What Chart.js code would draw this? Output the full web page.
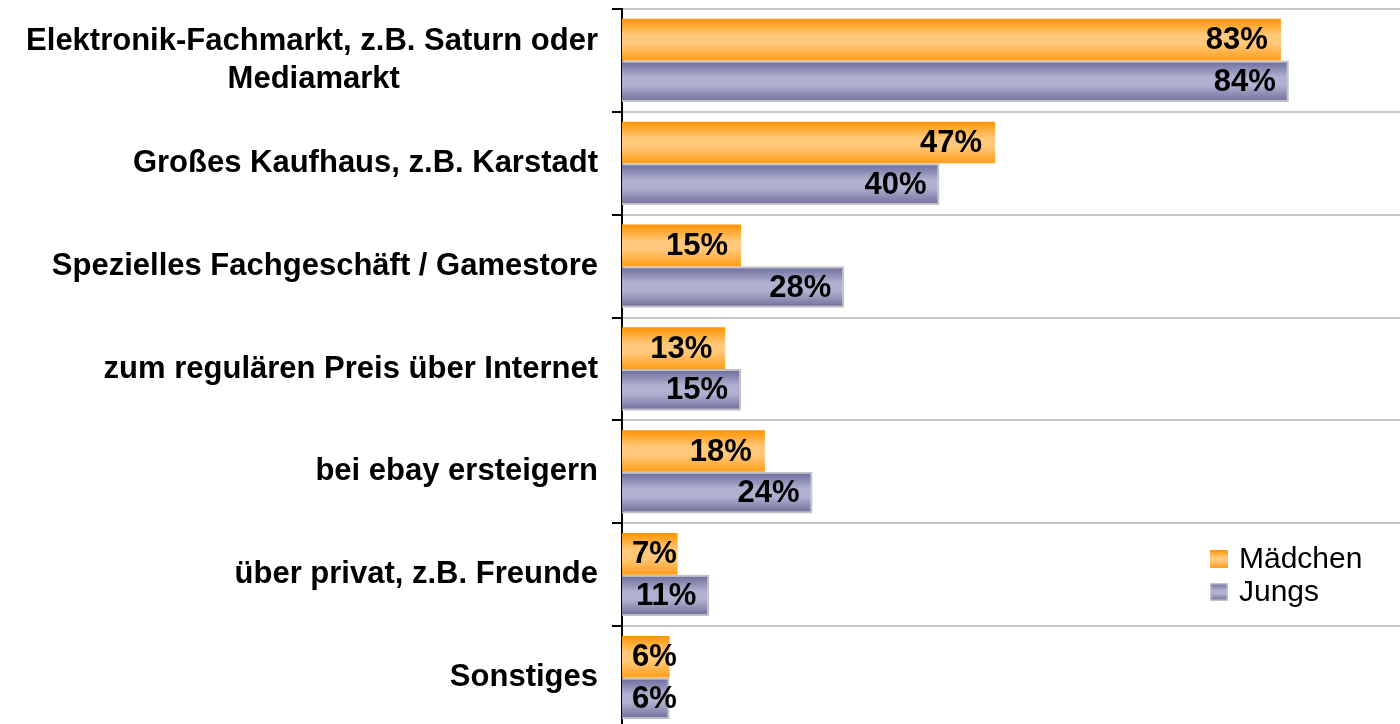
<!DOCTYPE html>
<html>
<head>
<meta charset="utf-8">
<script src="https://cdn.jsdelivr.net/npm/chart.js@4"></script>
<style>
  html, body { margin: 0; padding: 0; background: #fff; overflow: hidden; }
  canvas { display: block; }
</style>
</head>
<body>
<canvas id="kaufortChart" width="1400" height="732"></canvas>
<script>
// Daten
const categories = [
    ['Elektronik-Fachmarkt, z.B. Saturn oder', 'Mediamarkt'],
    'Großes Kaufhaus, z.B. Karstadt',
    'Spezielles Fachgeschäft / Gamestore',
    'zum regulären Preis über Internet',
    'bei ebay ersteigern',
    'über privat, z.B. Freunde',
    'Sonstiges'
];
const seriesNames = ['Mädchen', 'Jungs'];
const maedchen = [83, 47, 15, 13, 18, 7, 6];
const jungs = [84, 40, 28, 15, 24, 11, 6];

const FONT = '"Liberation Sans", Arial, sans-serif';
const LABEL_FONT = 'bold 31px ' + FONT;

// Farbverläufe pro Balken
const gradientStops = [
    [[0, '#ff9300'], [0.4, '#ffc87a'], [0.6, '#ffc87a'], [1, '#ff9d18']],
    [[0, '#68689a'], [0.4, '#b0b0d0'], [0.6, '#b0b0d0'], [1, '#6c6c9a']]
];

function makeGradient(ctx, top, bottom, stops) {
    const g = ctx.createLinearGradient(0, top, 0, bottom);
    stops.forEach(s => g.addColorStop(s[0], s[1]));
    return g;
}

// mehrzeilige Beschriftung zentriert: kürzere Zeilen rechts mit Leerzeichen auffüllen
const measureCtx = document.createElement('canvas').getContext('2d');
function centerLines(label) {
    if (!Array.isArray(label)) return label;
    measureCtx.font = LABEL_FONT;
    const widths = label.map(l => measureCtx.measureText(l).width);
    const maxW = Math.max(...widths);
    const spaceW = measureCtx.measureText('\u00A0').width;
    return label.map((l, i) => {
        const n = Math.round((maxW - widths[i]) / 2 / spaceW);
        return l + '\u00A0'.repeat(n);
    });
}

const barGradients = {
    id: 'barGradients',
    beforeDatasetsDraw(chart) {
        const ctx = chart.ctx;
        chart.data.datasets.forEach((ds, di) => {
            chart.getDatasetMeta(di).data.forEach(el => {
                const top = el.y - el.height / 2;
                const g = makeGradient(ctx, top, top + el.height, gradientStops[di]);
                el.options = Object.assign({}, el.options, { backgroundColor: g });
            });
        });
    }
};

// Prozentwerte in die Balken schreiben
const valueLabels = {
    id: 'valueLabels',
    afterDatasetsDraw(chart) {
        const ctx = chart.ctx;
        const left = chart.chartArea.left;
        ctx.save();
        ctx.font = LABEL_FONT;
        ctx.fillStyle = '#000';
        ctx.textAlign = 'right';
        ctx.textBaseline = 'middle';
        chart.data.datasets.forEach((ds, di) => {
            chart.getDatasetMeta(di).data.forEach((el, i) => {
                const txt = ds.data[i] + '%';
                const w = ctx.measureText(txt).width;
                const x = Math.max(el.x - 13, left + 10 + w);
                ctx.fillText(txt, x, el.y + 1);
            });
        });
        ctx.restore();
    }
};

// Legende unten rechts
const customLegend = {
    id: 'customLegend',
    afterDraw(chart) {
        const ctx = chart.ctx;
        const x0 = 1210, y0 = 550, step = 33, box = 18;
        ctx.save();
        ctx.font = '30px ' + FONT;
        ctx.textAlign = 'left';
        ctx.textBaseline = 'middle';
        seriesNames.forEach((name, i) => {
            const y = y0 + i * step;
            ctx.fillStyle = makeGradient(ctx, y, y + box, gradientStops[i]);
            ctx.fillRect(x0, y, box, box);
            if (i === 1) {
                ctx.strokeStyle = '#c4c4c4';
                ctx.lineWidth = 1.5;
                ctx.strokeRect(x0 + 0.75, y + 0.75, box - 1.5, box - 1.5);
            }
            ctx.fillStyle = '#000';
            ctx.fillText(name, x0 + 29, y + box / 2 + 1);
        });
        ctx.restore();
    }
};

const ctx = document.getElementById('kaufortChart').getContext('2d');
const kaufortChart = new Chart(ctx, {
    type: 'bar',
    data: {
        labels: categories,
        datasets: [{
            label: seriesNames[0],
            data: maedchen,
            backgroundColor: '#ffb347',
            borderWidth: 0
        }, {
            label: seriesNames[1],
            data: jungs,
            backgroundColor: '#9a9ac0',
            borderColor: '#c2c2c2',
            borderWidth: 2
        }]
    },
    options: {
        indexAxis: 'y',
        responsive: false,
        animation: false,
        datasets: {
            bar: {
                categoryPercentage: 0.81,
                barPercentage: 1.0
            }
        },
        layout: {
            padding: { left: 0, right: 0, top: 9, bottom: 3 }
        },
        plugins: {
            legend: { display: false },
            tooltip: { enabled: false }
        },
        scales: {
            x: {
                display: false,
                min: 0,
                max: 98
            },
            y: {
                afterFit(scale) {
                    scale.width = 622;
                    scale.paddingTop = 0;
                    scale.paddingBottom = 0;
                },
                border: { display: true, color: '#000', width: 2 },
                grid: {
                    offset: true,
                    color: '#c8c8c8',
                    lineWidth: 2,
                    drawTicks: true,
                    tickLength: 10,
                    tickColor: '#000',
                    tickWidth: 2
                },
                ticks: {
                    color: '#000',
                    padding: 14,
                    font: { family: FONT, size: 31, weight: 'bold', lineHeight: 1.25 },
                    callback(value, index) {
                        return centerLines(categories[index]);
                    }
                }
            }
        }
    },
    plugins: [barGradients, valueLabels, customLegend]
});
</script>
</body>
</html>
